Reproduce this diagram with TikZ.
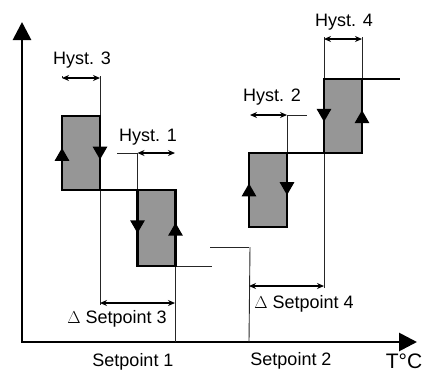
\documentclass[tikz,border=0pt]{standalone}
\usepackage{fontspec}
\setmainfont{Liberation Sans}
\usetikzlibrary{positioning, arrows.meta, calc}
\definecolor{boxgray}{RGB}{150,150,150}

\begin{document}
\begin{tikzpicture}[x=1pt,y=-1pt,
    axes/.style={line width=2.8pt,{Triangle[length=18pt,width=18pt]}-{Triangle[length=18pt,width=18pt]}},
    hbox/.style={draw,line width=2.8pt,fill=boxgray,inner sep=0pt,outer sep=0pt,minimum width=38pt,minimum height=74pt},
    stepline/.style={line width=2.8pt},
    edgearrow/.style={line width=2.8pt,-{Triangle[length=13pt,width=14pt]}},
    thinline/.style={line width=0.9pt,black!85},
    dim/.style={line width=1.4pt,{Stealth[length=7pt,width=6pt]}-{Stealth[length=7pt,width=6pt]}},
    lbl/.style={font=\fontsize{18}{20}\selectfont,inner sep=0pt,anchor=base}]
    \useasboundingbox (0,0) rectangle (429,373);

    % ejes
    \coordinate (O) at (22,342);
    \coordinate (ytop) at (22,22);
    \coordinate (xend) at (417,342);
    \draw[axes] (ytop) -- (O) -- (xend);

    % puntos de las cotas
    \coordinate (h3l) at (62,76);
    \coordinate (h3r) at (100,76);
    \coordinate (h3a) at (62,78);
    \coordinate (h3b) at (100,78);
    \coordinate (d3l) at (100,303);
    \coordinate (d3r) at (175,303);
    \coordinate (d3e) at (100,305);
    \coordinate (sp1) at (175,342);
    \coordinate (h1l) at (117,153);
    \coordinate (h1m) at (137.5,153);
    \coordinate (h1r) at (175,153);
    \coordinate (h2l) at (250,115);
    \coordinate (h2m) at (287,115);
    \coordinate (h2r) at (307,115);
    \coordinate (h4l) at (324,37);
    \coordinate (h4r) at (362,37);
    \coordinate (h4a) at (324,39);
    \coordinate (h4b) at (362,39);
    \coordinate (d4l) at (249,286);
    \coordinate (d4r) at (324,286);
    \coordinate (d4e) at (324,288);
    \coordinate (sp2) at (249,342);
    \coordinate (s1a) at (212,266);
    \coordinate (s2a) at (210,247);
    \coordinate (s2b) at (249,247);
    \coordinate (end4) at (400,79);

    % lineas finas
    \draw[thinline] (h3a) -- (h3l);
    \draw[thinline] (h3r) -- (d3e);
    \draw[thinline] (h1l) -- (h1m) -- ++(0,37);
    \draw[thinline] (sp1) -- (h1r |- s1a) -- (s1a);
    \draw[thinline] (s2a) -- (s2b);
    \draw[thinline] (sp2) -- (h2l |- s2b);
    \draw[thinline] (h2m) -- (h2r);
    \draw[thinline] (h2m) -- ++(0,38);
    \draw[thinline] (h4l) -- ++(0,42);
    \draw[thinline] (h4r) -- ++(0,42);
    \draw[thinline] (d4e) -- ++(0,-135);

    % cotas
    \draw[dim] (h3a) -- (h3b);
    \draw[dim] (h1m) -- (h1r);
    \draw[dim] (h2l) -- (h2m);
    \draw[dim] (h4a) -- (h4b);
    \draw[dim] (d3l) -- (d3r);
    \draw[dim] (d4l) -- (d4r);

    % cajas de histeresis
    \node[hbox] (b3) at (81,153) {};
    \node[hbox,minimum height=76pt] (b1) at (156.5,228) {};
    \node[hbox] (b2) at (268,190) {};
    \node[hbox] (b4) at (343,116) {};

    \draw[stepline] (b3.south east) -- (b1.north west);
    \draw[stepline] (b2.north east) -- (b4.south west);
    \draw[stepline] (b4.north east) -- (end4);

    \draw[edgearrow] (b3.south west) -- ($(b3.south west)!0.57!(b3.north west)$);
    \draw[edgearrow] (b3.north east) -- ($(b3.north east)!0.59!(b3.south east)$);
    \draw[edgearrow] (b1.north west) -- ($(b1.north west)!0.57!(b1.south west)$);
    \draw[edgearrow] (b1.south east) -- ($(b1.south east)!0.57!(b1.north east)$);
    \draw[edgearrow] (b2.south west) -- ($(b2.south west)!0.59!(b2.north west)$);
    \draw[edgearrow] (b2.north east) -- ($(b2.north east)!0.57!(b2.south east)$);
    \draw[edgearrow] (b4.north west) -- ($(b4.north west)!0.58!(b4.south west)$);
    \draw[edgearrow] (b4.south east) -- ($(b4.south east)!0.58!(b4.north east)$);

    % textos
    \node[lbl] (t3) at (82,64) {Hyst. 3};
    \node[lbl] (t1) at (148,141.5) {Hyst. 1};
    \node[lbl] (t2) at (272,101.5) {Hyst. 2};
    \node[lbl] (t4) at (344,26.5) {Hyst. 4};
    \node[lbl] (td3) at (117,323) {$\Delta$ Setpoint 3};
    \node[lbl] (td4) at (304,308) {$\Delta$ Setpoint 4};
    \node[lbl] (tsp1) at (133,366) {Setpoint 1};
    \node[lbl] (tsp2) at (291,365) {Setpoint 2};
    \node[lbl,font=\fontsize{21}{24}\selectfont] (tT) at (404,368.5) {T°C};
\end{tikzpicture}
\end{document}
